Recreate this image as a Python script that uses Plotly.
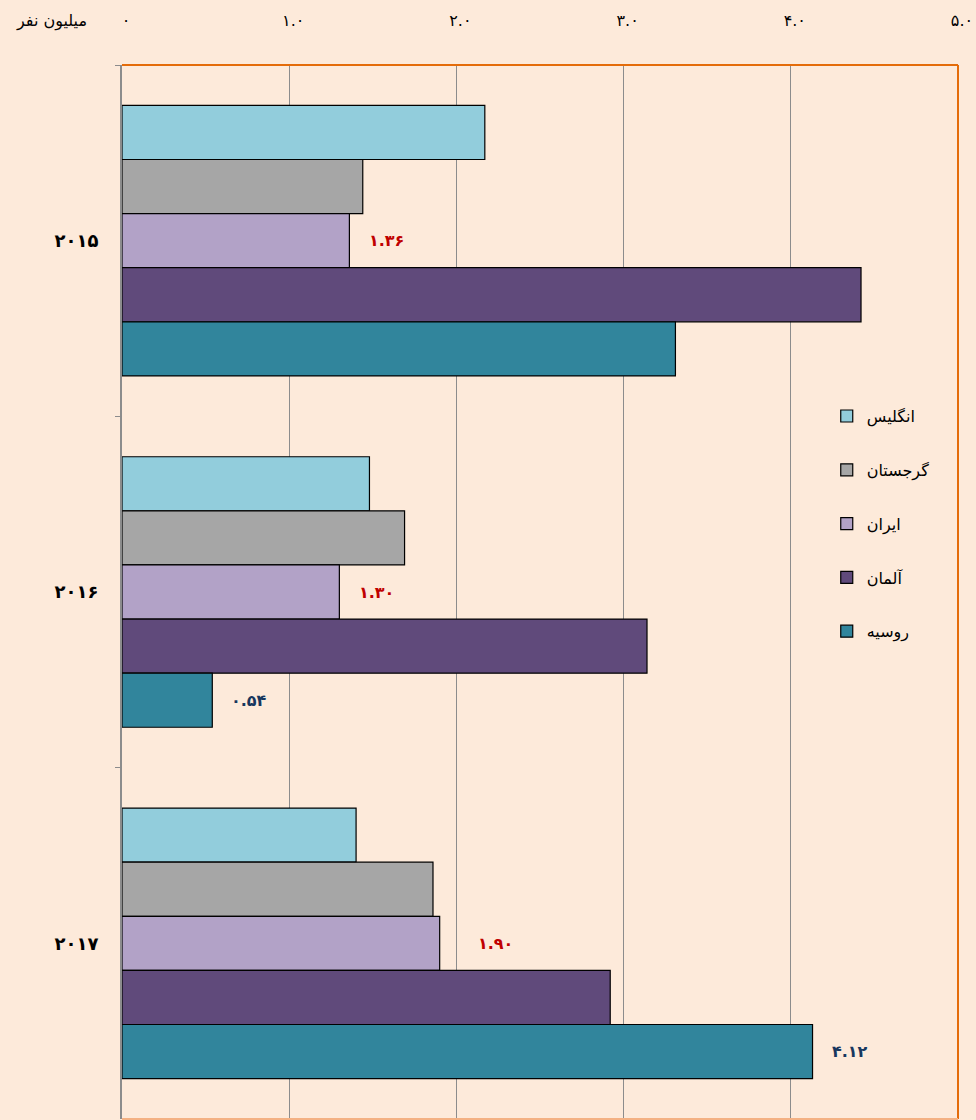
import plotly.graph_objects as go

years = ["۲۰۱۵", "۲۰۱۶", "۲۰۱۷"]
countries = ["انگلیس", "گرجستان", "ایران", "آلمان", "روسیه"]
values = {
    "انگلیس": [2.17, 1.48, 1.40],
    "گرجستان": [1.44, 1.69, 1.86],
    "ایران": [1.36, 1.30, 1.90],
    "آلمان": [4.42, 3.14, 2.92],
    "روسیه": [3.31, 0.54, 4.13],
}
colors = ["#92CDDC", "#A6A6A6", "#B2A2C7", "#604A7B", "#31859C"]

# labelled points: (country, year index, label text)
label_country = ["ایران", "ایران", "ایران", "روسیه", "روسیه"]
label_year_idx = [0, 1, 2, 1, 2]
label_text = ["۱.۳۶", "۱.۳۰", "۱.۹۰", "۰.۵۴", "۴.۱۲"]
label_color = ["#C00000", "#C00000", "#C00000", "#17375E", "#17375E"]
label_shift = [18, 18, 36, 17, 17]

x_tickvals = [0, 1, 2, 3, 4, 5]
x_ticktext = ["۰", "۱.۰", "۲.۰", "۳.۰", "۴.۰", "۵.۰"]

FONT = "DejaVu Sans"

fig = go.Figure()
for i, c in enumerate(countries):
    fig.add_trace(go.Bar(
        y=years, x=values[c], name=c, orientation="h",
        marker=dict(color=colors[i], line=dict(color="#000000", width=1.2)),
        legendgroup=c,
        offsetgroup=str(i),
    ))

n_c = len(countries)
for c, yi, t, col, sh in zip(label_country, label_year_idx, label_text, label_color, label_shift):
    ci = countries.index(c)
    v = values[c][yi]
    fig.add_annotation(
        x=v, y=yi - 0.385 + (ci + 0.5) * 0.77 / n_c, yref="y", xref="x",
        text=t, showarrow=False, xanchor="left", xshift=sh,
        font=dict(family=FONT, size=16, color=col, weight="bold"),
    )

fig.add_annotation(
    x=-0.04, y=1.042, xref="paper", yref="paper", text="میلیون نفر", showarrow=False,
    xanchor="right", yanchor="middle",
    font=dict(family=FONT, size=16, color="#000000"),
)

# orange frame: top, right, bottom
fig.add_shape(type="line", xref="paper", yref="paper", x0=0, x1=1, y0=1, y1=1,
              line=dict(color="#E46C0A", width=2))
fig.add_shape(type="line", xref="paper", yref="paper", x0=1, x1=1, y0=0, y1=1,
              line=dict(color="#E46C0A", width=2))
fig.add_shape(type="line", xref="paper", yref="paper", x0=0, x1=1, y0=0, y1=0,
              line=dict(color="#F4B183", width=2))

fig.update_layout(
    width=976, height=1120,
    paper_bgcolor="#FDEADA", plot_bgcolor="#FDEADA",
    margin=dict(l=122, r=18, t=65, b=1),
    barmode="group", bargap=0.23, bargroupgap=0,
    font=dict(family=FONT, color="#000000"),
    showlegend=True,
    legend=dict(
        x=0.843, y=0.683, xanchor="left", yanchor="top",
        bgcolor="rgba(0,0,0,0)", traceorder="grouped", tracegroupgap=30,
        font=dict(family=FONT, size=16, color="#000000"),
        itemwidth=30,
    ),
    xaxis=dict(
        side="top", range=[0, 5], tickvals=x_tickvals, ticktext=x_ticktext,
        showgrid=True, gridcolor="#8C8C8C", gridwidth=1.2,
        zeroline=False, showline=False, ticks="",
        ticklabelstandoff=35, ticklabelshift=4,
        tickfont=dict(family=FONT, size=16, color="#000000"),
        fixedrange=True,
    ),
    yaxis=dict(
        type="category", autorange="reversed",
        showline=True, linecolor="#8C8C8C", linewidth=2,
        ticks="outside", ticklen=5, tickcolor="#8C8C8C", tickson="boundaries",
        showgrid=False, ticklabelstandoff=18,
        tickfont=dict(family=FONT, size=18, color="#000000", weight="bold"),
    ),
)

fig.write_html(
    "out.html",
    config={"displayModeBar": False},
    post_script="document.body.style.margin='0';document.body.style.background='#FDEADA';",
)
